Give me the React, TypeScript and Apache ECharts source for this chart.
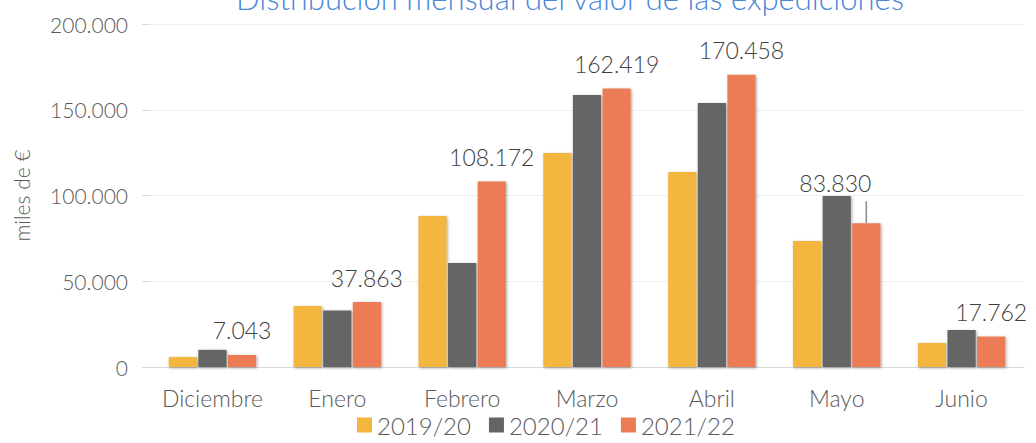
import React, { useEffect, useRef } from "react";
import * as echarts from "echarts";

const categories = ["Diciembre", "Enero", "Febrero", "Marzo", "Abril", "Mayo", "Junio"];
const seriesNames = ["2019/20", "2020/21", "2021/22"];
const values1920 = [5800, 35500, 88000, 124800, 113700, 73500, 14000];
const values2021 = [10000, 33000, 60600, 158600, 154000, 99700, 21600];
const values2122 = [7043, 37863, 108172, 162419, 170458, 83830, 17762];
const colors = ["#F3B73F", "#656565", "#EC7B57"];
const yTicks = [0, 50000, 100000, 150000, 200000];
const movedLabelIndex = 5;

const fmt = (v: number) => v.toLocaleString("de-DE");
const FONT = "Lato";
const BAR_CATEGORY_GAP = 0.3;
const BAR_GAP = 0.05;

export default function App() {
  const ref = useRef<HTMLDivElement>(null);
  useEffect(() => {
    if (!ref.current) return;
    const chart = echarts.init(ref.current, null, { renderer: "svg" });
    const shadow = {
      shadowBlur: 3,
      shadowColor: "rgba(0,0,0,0.35)",
      shadowOffsetX: 1,
      shadowOffsetY: 1,
    };
    const data = [values1920, values2021, values2122];
    const barSeries = seriesNames.map((name, i) => ({
      name,
      type: "bar",
      data: data[i],
      barGap: `${BAR_GAP * 100}%`,
      barCategoryGap: `${BAR_CATEGORY_GAP * 100}%`,
      itemStyle: { color: colors[i], ...shadow },
      label:
        i === 2
          ? {
              show: true,
              position: "top",
              distance: 13,
              color: "#404040",
              fontSize: 23,
              fontWeight: 300,
              fontFamily: FONT,
              formatter: (p: any) => fmt(p.value),
            }
          : { show: false },
      labelLayout:
        i === 2
          ? (p: any) => (p.dataIndex === movedLabelIndex ? { dx: -31, dy: -16 } : {})
          : undefined,
    }));
    const leaderSeries = {
      type: "custom",
      name: "leader",
      silent: true,
      z: 5,
      data: [[movedLabelIndex, values2122[movedLabelIndex]]],
      renderItem: (_params: any, api: any) => {
        const pt = api.coord([api.value(0), api.value(1)]);
        const band = api.size([1, 0])[0];
        const n = seriesNames.length;
        const barW = (band * (1 - BAR_CATEGORY_GAP)) / (n + (n - 1) * BAR_GAP);
        const x = pt[0] + (barW * (1 + BAR_GAP) * (n - 1)) / 2;
        return {
          type: "line",
          shape: { x1: x, y1: pt[1], x2: x, y2: pt[1] - 22 },
          style: { stroke: "#8C8C8C", lineWidth: 1.5 },
        };
      },
    };
    chart.setOption({
      animation: false,
      textStyle: { fontFamily: FONT },
      title: {
        text: "Distribución mensual del valor de las expediciones",
        left: 565,
        textAlign: "center",
        top: -23,
        textStyle: { color: "#4A86D8", fontSize: 31, fontWeight: 300, fontFamily: FONT },
      },
      legend: {
        bottom: 1,
        left: 352,
        itemWidth: 15,
        itemHeight: 15,
        itemGap: 18,
        icon: "rect",
        textStyle: { color: "#595959", fontSize: 24, fontWeight: 300, fontFamily: FONT },
        data: seriesNames,
      },
      grid: { left: 150, right: 12, top: 24, bottom: 76, containLabel: false },
      xAxis: {
        type: "category",
        data: categories,
        axisLine: { lineStyle: { color: "#D9D9D9", width: 1 } },
        axisTick: { show: false },
        axisLabel: {
          interval: 0,
          color: "#595959",
          fontSize: 23,
          fontWeight: 300,
          margin: 19,
          fontFamily: FONT,
        },
      },
      yAxis: {
        type: "value",
        min: yTicks[0],
        max: yTicks[yTicks.length - 1],
        interval: 50000,
        name: "miles de €",
        nameLocation: "middle",
        nameGap: 118,
        nameTextStyle: { color: "#595959", fontSize: 21, fontWeight: 300, fontFamily: FONT },
        axisLine: { show: false },
        axisTick: { show: true, length: 8, lineStyle: { color: "#D9D9D9" } },
        splitLine: { show: true, lineStyle: { color: "#EFEFEF" } },
        axisLabel: {
          color: "#595959",
          fontSize: 21,
          fontWeight: 300,
          margin: 22,
          fontFamily: FONT,
          formatter: (v: number) => fmt(v),
        },
      },
      series: [...barSeries, leaderSeries],
    });
    return () => chart.dispose();
  }, []);
  return (
    <div
      ref={ref}
      style={{ position: "fixed", left: 0, top: 0, width: 1036, height: 443, background: "#fff" }}
    />
  );
}
